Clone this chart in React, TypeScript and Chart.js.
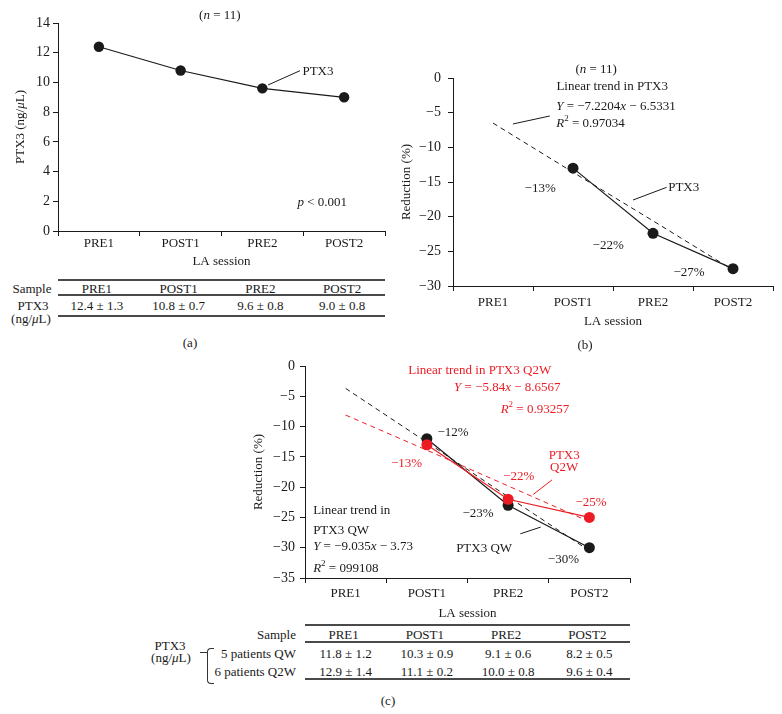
import React, { useEffect, useRef } from "react";
import { Chart, registerables } from "chart.js";
Chart.register(...registerables);

const FONT = '"Liberation Serif", "Times New Roman", serif';
const INK = "#1a1a1a";
const RED = "#ed1c24";
const SIZE = 13;

// ---------- data ----------
const SESSIONS = ["PRE1", "POST1", "PRE2", "POST2"];
const A_Y_RANGE = [0, 14, 2]; // min, max, step
const B_Y_RANGE = [-30, 0, 5];
const C_Y_RANGE = [-35, 0, 5];
const PTX3_MEAN = [12.4, 10.8, 9.6, 9.0];
const PTX3_SD = [1.3, 0.7, 0.8, 0.8];
const REDUCTION_ALL = [null, -13, -22.4, -27.5];
const TREND_ALL = [-6.5, -13.6, -20.6, -27.7];
const REDUCTION_QW = [null, -12, -23, -30];
const REDUCTION_Q2W = [null, -13, -22, -25];
const TREND_QW = [-3.7, -12.6, -21.6, -30.5];
const TREND_Q2W = [-8.1, -13.9, -19.8, -25.7];
const QW_MEAN = [11.8, 10.3, 9.1, 8.2];
const QW_SD = [1.2, 0.9, 0.6, 0.5];
const Q2W_MEAN = [12.9, 11.1, 10.0, 9.6];
const Q2W_SD = [1.4, 0.2, 0.8, 0.4];

// ---------- rich text helpers ----------
type Run = { t: string; i: boolean; s: boolean };
function parseRich(src: string): Run[] {
  const runs: Run[] = [];
  let i = false, s = false, buf = "";
  const flush = () => { if (buf) runs.push({ t: buf, i, s }); buf = ""; };
  for (const ch of src) {
    if (ch === "*") { flush(); i = !i; }
    else if (ch === "^") { flush(); s = !s; }
    else buf += ch;
  }
  flush();
  return runs;
}
function runFont(r: Run, size: number) {
  return `${r.i ? "italic " : ""}${r.s ? Math.round(size * 0.7) : size}px ${FONT}`;
}
function drawRich(ctx: CanvasRenderingContext2D, src: string, x: number, y: number, align: string, color: string, size = SIZE) {
  const runs = parseRich(src);
  const widths = runs.map((r) => { ctx.font = runFont(r, size); return ctx.measureText(r.t).width; });
  const total = widths.reduce((a, b) => a + b, 0);
  let cx = align === "center" ? x - total / 2 : align === "right" ? x - total : x;
  ctx.fillStyle = color;
  ctx.textBaseline = "middle";
  ctx.textAlign = "left";
  runs.forEach((r, k) => {
    ctx.font = runFont(r, size);
    ctx.fillText(r.t, cx, r.s ? y - size * 0.38 : y);
    cx += widths[k];
  });
}
function Rich({ src }: { src: string }) {
  return (
    <>
      {parseRich(src).map((r, k) =>
        r.i ? <i key={k}>{r.t}</i> : r.s ? <span key={k} style={{ fontSize: "70%", verticalAlign: "super" }}>{r.t}</span> : <span key={k}>{r.t}</span>
      )}
    </>
  );
}

type Note = { x: number; y: number; t: string; a?: string; c?: string };
type Lead = { x1: number; y1: number; x2: number; y2: number; c?: string };
type Titles = { y: string; yGap: number; yShift?: number; x: string; xGap: number };

function notesPlugin(notes: Note[], leads: Lead[], titles: Titles) {
  return {
    id: "notes",
    afterDraw(chart: any) {
      const { ctx, chartArea: ca, scales } = chart;
      const xs = scales.x, ys = scales.y;
      ctx.save();
      for (const l of leads) {
        ctx.beginPath();
        ctx.strokeStyle = l.c || INK;
        ctx.lineWidth = 1;
        ctx.setLineDash([]);
        ctx.moveTo(xs.getPixelForValue(l.x1), ys.getPixelForValue(l.y1));
        ctx.lineTo(xs.getPixelForValue(l.x2), ys.getPixelForValue(l.y2));
        ctx.stroke();
      }
      for (const n of notes) {
        drawRich(ctx, n.t, xs.getPixelForValue(n.x), ys.getPixelForValue(n.y), n.a || "left", n.c || INK);
      }
      drawRich(ctx, titles.x, (ca.left + ca.right) / 2, ca.bottom + titles.xGap, "center", INK);
      ctx.translate(ca.left - titles.yGap, (ca.top + ca.bottom) / 2 + (titles.yShift || 0));
      ctx.rotate(-Math.PI / 2);
      drawRich(ctx, titles.y, 0, 0, "center", INK);
      ctx.restore();
    },
  };
}

const minusFmt = (v: any) => String(v).replace("-", "\u2212");

function baseOptions(p: {
  range: number[]; yWidth: number; xHeight: number; padding: any; yPad: number; xPad: number;
}) {
  return {
    responsive: false,
    animation: false,
    devicePixelRatio: 1,
    layout: { padding: p.padding },
    plugins: { legend: { display: false }, tooltip: { enabled: false } },
    elements: { line: { tension: 0 } },
    scales: {
      x: {
        type: "category",
        offset: true,
        grid: { display: true, drawOnChartArea: false, drawTicks: true, tickLength: 5, color: INK, offset: true, lineWidth: 1 },
        border: { display: true, color: INK, width: 1 },
        ticks: { color: INK, font: { family: FONT, size: SIZE }, padding: p.xPad, maxRotation: 0, autoSkip: false },
        afterFit: (s: any) => { s.height = p.xHeight; },
      },
      y: {
        min: p.range[0],
        max: p.range[1],
        grid: { display: true, drawOnChartArea: false, drawTicks: true, tickLength: 5, color: INK, lineWidth: 1 },
        border: { display: true, color: INK, width: 1 },
        ticks: { stepSize: p.range[2], color: INK, font: { family: FONT, size: 14 }, padding: p.yPad, callback: minusFmt },
        afterFit: (s: any) => { s.width = p.yWidth; },
      },
    },
  };
}

function solid(data: any[], color: string, r: number, order: number) {
  return {
    data, borderColor: color, backgroundColor: color, pointBackgroundColor: color, pointBorderColor: color,
    pointRadius: r, pointHoverRadius: r, pointBorderWidth: 0, borderWidth: 1.2, order, spanGaps: false,
  };
}
function dashed(data: any[], color: string, order: number) {
  return { data, borderColor: color, borderDash: [5, 4], pointRadius: 0, pointHoverRadius: 0, borderWidth: 1, order };
}

function makeA(): any {
  return {
    type: "line",
    data: { labels: SESSIONS, datasets: [solid(PTX3_MEAN, INK, 5.2, 1)] },
    options: baseOptions({ range: A_Y_RANGE, yWidth: 58, xHeight: 44, padding: { top: 23, right: 7, left: 0, bottom: 0 }, yPad: 3, xPad: 0 }),
    plugins: [
      notesPlugin(
        [
          { x: 1.48, y: 14.47, t: "(*n* = 11)", a: "center" },
          { x: 2.49, y: 10.72, t: "PTX3" },
          { x: 2.43, y: 1.9, t: "*p* < 0.001" },
        ],
        [{ x1: 2.07, y1: 9.83, x2: 2.46, y2: 10.79 }],
        { y: "PTX3 (ng/*μ*L)", yGap: 37, yShift: 0, x: "LA session", xGap: 31 }
      ),
    ],
  };
}

function makeB(): any {
  return {
    type: "line",
    data: { labels: SESSIONS, datasets: [dashed(TREND_ALL, INK, 3), solid(REDUCTION_ALL, INK, 5.5, 1)] },
    options: baseOptions({ range: B_Y_RANGE, yWidth: 61, xHeight: 44, padding: { top: 78, right: 9, left: 0, bottom: 0 }, yPad: 7, xPad: 4 }),
    plugins: [
      notesPlugin(
        [
          { x: 1.29, y: 1.15, t: "(*n* = 11)", a: "center" },
          { x: 1.49, y: -1.3, t: "Linear trend in PTX3", a: "center" },
          { x: 0.79, y: -4.13, t: "*Y* = \u22127.2204*x* \u2212 6.5331" },
          { x: 0.79, y: -6.63, t: "*R*^2^ = 0.97034" },
          { x: 0.59, y: -16.0, t: "\u221213%", a: "center" },
          { x: 2.19, y: -15.8, t: "PTX3" },
          { x: 1.44, y: -24.2, t: "\u221222%", a: "center" },
          { x: 2.45, y: -28.1, t: "\u221227%", a: "center" },
        ],
        [
          { x1: 0.25, y1: -6.63, x2: 0.71, y2: -5.48 },
          { x1: 1.75, y1: -17.6, x2: 2.17, y2: -15.77 },
        ],
        { y: "Reduction (%)", yGap: 46, x: "LA session", xGap: 36 }
      ),
    ],
  };
}

function makeC(): any {
  return {
    type: "line",
    data: {
      labels: SESSIONS,
      datasets: [
        dashed(TREND_QW, INK, 4),
        dashed(TREND_Q2W, RED, 3),
        solid(REDUCTION_QW, INK, 5.5, 2),
        solid(REDUCTION_Q2W, RED, 5.5, 1),
      ],
    },
    options: baseOptions({ range: C_Y_RANGE, yWidth: 105, xHeight: 44, padding: { top: 16, right: 10, left: 0, bottom: 0 }, yPad: 5, xPad: 3 }),
    plugins: [
      notesPlugin(
        [
          { x: 1.65, y: -0.83, t: "Linear trend in PTX3 Q2W", a: "center", c: RED },
          { x: 1.99, y: -3.63, t: "*Y* = \u22125.84*x* \u2212 8.6567", a: "center", c: RED },
          { x: 2.33, y: -7.26, t: "*R*^2^ = 0.93257", a: "center", c: RED },
          { x: 1.13, y: -11.0, t: "\u221212%" },
          { x: 0.75, y: -16.1, t: "\u221213%", a: "center", c: RED },
          { x: 2.69, y: -14.86, t: "PTX3", a: "center", c: RED },
          { x: 2.69, y: -16.8, t: "Q2W", a: "center", c: RED },
          { x: 2.13, y: -18.3, t: "\u221222%", a: "center", c: RED },
          { x: 3.02, y: -22.6, t: "\u221225%", a: "center", c: RED },
          { x: 1.63, y: -24.3, t: "\u221223%", a: "center" },
          { x: -0.4, y: -23.8, t: "Linear trend in" },
          { x: -0.4, y: -27.1, t: "PTX3 QW" },
          { x: -0.4, y: -29.8, t: "*Y* = \u22129.035*x* \u2212 3.73" },
          { x: -0.4, y: -33.4, t: "*R*^2^ = 099108" },
          { x: 1.36, y: -30.1, t: "PTX3 QW" },
          { x: 2.68, y: -31.9, t: "\u221230%", a: "center" },
        ],
        [
          { x1: 2.31, y1: -21.2, x2: 2.54, y2: -18.8, c: RED },
          { x1: 2.15, y1: -27.7, x2: 2.4, y2: -26.6 },
        ],
        { y: "Reduction (%)", yGap: 46, x: "LA session", xGap: 36 }
      ),
    ],
  };
}

function ChartCanvas({ left, top, width, height, make }: { left: number; top: number; width: number; height: number; make: () => any }) {
  const ref = useRef<HTMLCanvasElement>(null);
  useEffect(() => {
    const chart = new Chart(ref.current as HTMLCanvasElement, make());
    return () => chart.destroy();
  }, []);
  return <canvas ref={ref} width={width} height={height} style={{ position: "absolute", left, top, width, height }} />;
}

function T({ x, y, a = "center", children }: { x: number; y: number; a?: string; children: any }) {
  const tx = a === "center" ? "-50%" : a === "right" ? "-100%" : "0";
  return (
    <span style={{ position: "absolute", left: x, top: y, transform: `translate(${tx},-50%)`, whiteSpace: "nowrap", lineHeight: 1 }}>
      {children}
    </span>
  );
}
function HL({ x, y, w, h = 1.5 }: { x: number; y: number; w: number; h?: number }) {
  return <div style={{ position: "absolute", left: x, top: y - h / 2, width: w, height: h, background: "#4a4a4a" }} />;
}

const fmt = (m: number, s: number) => `${m.toFixed(1)} ± ${s.toFixed(1)}`;

export default function App() {
  // table column centres follow the chart category centres
  const aCol = (i: number) => 58 + (i + 0.5) * 81.75 - 2;
  const cCol = (i: number) => 305 + (i + 0.5) * 81.25;
  return (
    <div style={{ position: "absolute", left: 0, top: 0, width: 782, height: 714, background: "#fff", fontFamily: FONT, fontSize: SIZE, color: INK, overflow: "hidden" }}>
      <ChartCanvas left={0} top={0} width={392} height={275} make={makeA} />
      <ChartCanvas left={392} top={0} width={390} height={330} make={makeB} />
      <ChartCanvas left={200} top={350} width={440} height={272} make={makeC} />

      {/* table (a) */}
      <HL x={58} y={280} w={327} h={1.2} />
      <HL x={58} y={295} w={327} h={2} />
      <HL x={58} y={316} w={327} h={2} />
      <T x={32} y={288}>Sample</T>
      <T x={33} y={305}>PTX3</T>
      <T x={31} y={318}><Rich src="(ng/*μ*L)" /></T>
      {SESSIONS.map((s, i) => <T key={"ah" + i} x={aCol(i)} y={288}>{s}</T>)}
      {PTX3_MEAN.map((m, i) => <T key={"av" + i} x={aCol(i)} y={305}>{fmt(m, PTX3_SD[i])}</T>)}
      <T x={190} y={342}>(a)</T>
      <T x={585} y={344}>(b)</T>

      {/* table (c) */}
      <HL x={305} y={625} w={325} h={1.2} />
      <HL x={305} y={642} w={325} h={2} />
      <HL x={305} y={679} w={325} h={2} />
      <T x={296} y={634} a="right">Sample</T>
      <T x={296} y={653} a="right">5 patients QW</T>
      <T x={296} y={671} a="right">6 patients Q2W</T>
      <T x={170} y={645}>PTX3</T>
      <T x={171} y={657}><Rich src="(ng/*μ*L)" /></T>
      <div style={{ position: "absolute", left: 207, top: 648, width: 6, height: 34, borderLeft: "1px solid #333", borderTop: "1px solid #333", borderBottom: "1px solid #333", borderTopLeftRadius: 4, borderBottomLeftRadius: 4 }} />
      <div style={{ position: "absolute", left: 200, top: 652, width: 7, height: 1, background: "#333" }} />
      {SESSIONS.map((s, i) => <T key={"ch" + i} x={cCol(i) - 2} y={634}>{s}</T>)}
      {QW_MEAN.map((m, i) => <T key={"cq" + i} x={cCol(i)} y={653}>{fmt(m, QW_SD[i])}</T>)}
      {Q2W_MEAN.map((m, i) => <T key={"cr" + i} x={cCol(i)} y={671}>{fmt(m, Q2W_SD[i])}</T>)}
      <T x={388} y={700}>(c)</T>
    </div>
  );
}
